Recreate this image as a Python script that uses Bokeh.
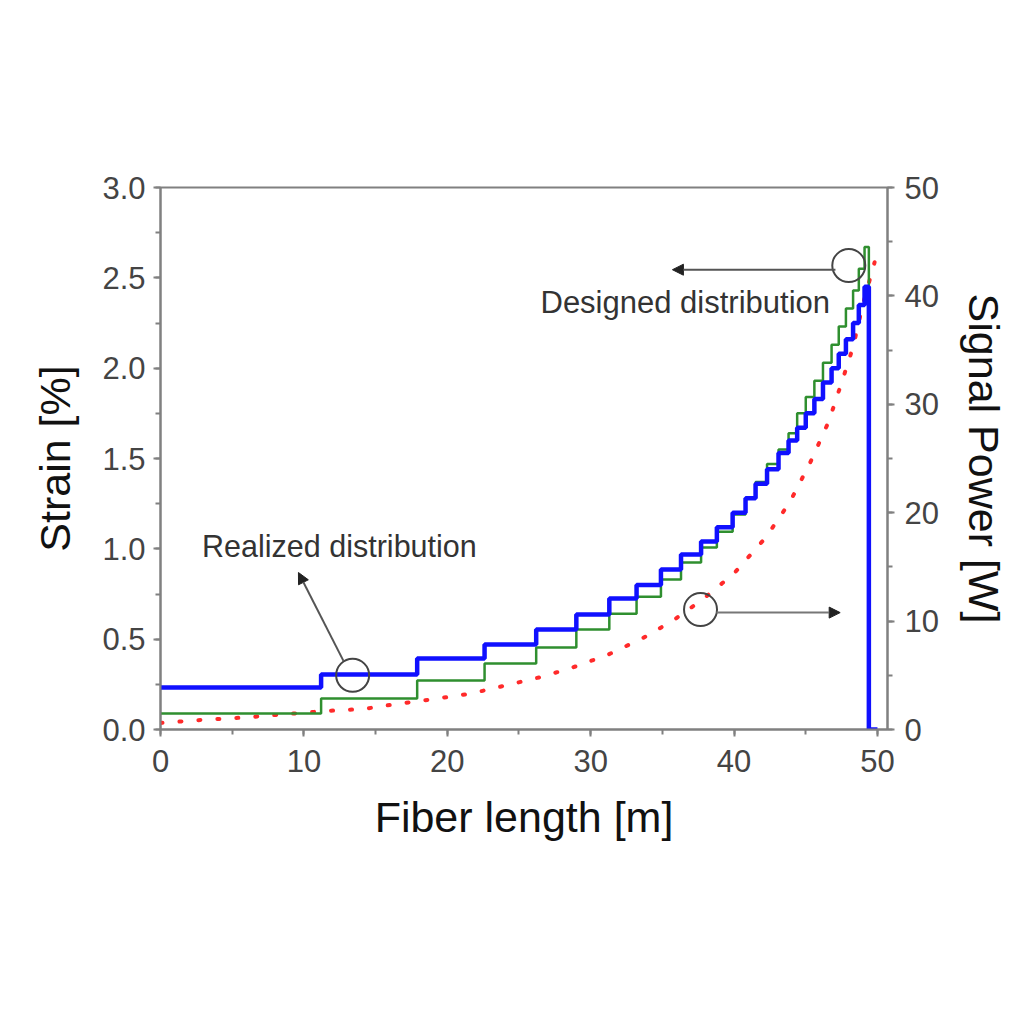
from bokeh.plotting import figure
from bokeh.models import Range1d, LinearAxis, Label, Arrow, NormalHead, SingleIntervalTicker, NumeralTickFormatter
from bokeh.embed import file_html
from bokeh.resources import INLINE

# ---- data ----
step_breaks = [0, 11.2, 17.9, 22.6, 26.2, 29.0, 31.3, 33.2, 34.9, 36.3, 37.7, 38.8,
               39.9, 40.8, 41.5, 42.3, 43.1, 43.8, 44.4, 45.0, 45.6, 46.2, 46.8,
               47.3, 47.8, 48.3, 48.7, 49.1, 49.4]
realized_strain = [0.232, 0.304, 0.393, 0.470, 0.553, 0.636, 0.725, 0.80, 0.886,
                   0.968, 1.04, 1.12, 1.20, 1.28, 1.36, 1.44, 1.53, 1.60, 1.67,
                   1.75, 1.83, 1.92, 2.00, 2.08, 2.16, 2.25, 2.35, 2.45]
designed_strain = [0.089, 0.171, 0.271, 0.365, 0.454, 0.553, 0.640, 0.735, 0.83,
                   0.924, 1.008, 1.095, 1.19, 1.28, 1.37, 1.47, 1.55, 1.64, 1.75,
                   1.84, 1.93, 2.03, 2.13, 2.23, 2.33, 2.43, 2.55, 2.67]
fiber_end = 50.0

power_x = [0, 1.5, 3.0, 5.8, 8.6, 11.4, 14.2, 16.2, 19.0, 21.6, 24.2, 26.7, 28.7,
           31.2, 33.6, 35.8, 37.9, 40.0, 42.2, 43.9, 45.3, 46.6, 47.6, 48.3, 49.0, 49.8]
power_w = [0.6, 0.75, 0.9, 1.1, 1.4, 1.7, 1.9, 2.3, 2.8, 3.3, 4.1, 4.9, 5.7,
           6.9, 8.4, 10.1, 12.1, 14.4, 17.7, 21.0, 24.6, 28.4, 32.4, 35.3, 39.3, 43.1]

FONT = "Liberation Sans"
AX = "#808080"
TXT = "#333333"

p = figure(width=1012, height=1000, output_backend="svg", toolbar_location=None,
           x_range=Range1d(0, 50.7), y_range=Range1d(0, 3.0),
           min_border_left=160, min_border_right=125, min_border_top=187,
           min_border_bottom=271)
p.grid.visible = False
p.outline_line_color = AX
p.outline_line_width = 2
p.background_fill_color = "white"
p.border_fill_color = "white"

p.extra_y_ranges = {"power": Range1d(0, 50)}

def style_axis(ax, label_size="43px"):
    ax.axis_line_color = AX
    ax.axis_line_width = 2
    ax.major_tick_line_color = AX
    ax.minor_tick_line_color = AX
    ax.major_tick_line_width = 2
    ax.minor_tick_line_width = 2
    ax.major_tick_out = 7
    ax.major_tick_in = 0
    ax.minor_tick_out = 5
    ax.minor_tick_in = 0
    ax.major_label_text_font = FONT
    ax.major_label_text_font_size = "31px"
    ax.major_label_text_color = "#444444"
    ax.axis_label_text_font = FONT
    ax.axis_label_text_font_size = label_size
    ax.axis_label_text_font_style = "normal"
    ax.axis_label_text_color = "#111111"

xa = p.xaxis[0]
style_axis(xa)
xa.ticker = SingleIntervalTicker(interval=10, num_minor_ticks=2)
xa.axis_label = "Fiber length [m]"
xa.major_label_standoff = 13
xa.axis_label_standoff = 18

ya = p.yaxis[0]
style_axis(ya)
ya.ticker = SingleIntervalTicker(interval=0.5, num_minor_ticks=2)
ya.formatter = NumeralTickFormatter(format="0.0")
ya.axis_label = "Strain [%]"
ya.major_label_standoff = 8
ya.axis_label_standoff = 20

ra = LinearAxis(y_range_name="power", axis_label="Signal Power [W]")
style_axis(ra)
ra.ticker = SingleIntervalTicker(interval=10, num_minor_ticks=2)
ra.major_label_standoff = 10
ra.axis_label_standoff = 18
p.add_layout(ra, "right")

# ---- data marks ----
p.line(power_x, power_w, y_range_name="power", line_color="#ff2a2a",
       line_width=4, line_dash="2 17", line_cap="round")

p.step(step_breaks, designed_strain + [0.0], mode="after",
       line_color="#2f8f2f", line_width=2.5)
p.step(step_breaks + [fiber_end], realized_strain + [0.0, 0.0], mode="after",
       line_color="#1010ff", line_width=4.5)

# ---- annotations ----
circ_x = [13.4, 48.0, 37.66]
circ_y = [0.30, 2.568, 0.664]
p.scatter(circ_x, circ_y, marker="circle", size=33, fill_color=None,
          line_color="#444444", line_width=2)

p.add_layout(Arrow(end=NormalHead(size=11, fill_color="#222222", line_color="#222222"),
                   x_start=12.76, y_start=0.38, x_end=9.62, y_end=0.869,
                   line_color="#555555", line_width=2))
p.add_layout(Arrow(end=NormalHead(size=11, fill_color="#222222", line_color="#222222"),
                   x_start=47.07, y_start=2.545, x_end=35.7, y_end=2.545,
                   line_color="#555555", line_width=2))
p.add_layout(Arrow(end=NormalHead(size=11, fill_color="#222222", line_color="#222222"),
                   x_start=38.77, y_start=0.647, x_end=47.4, y_end=0.647,
                   line_color="#777777", line_width=2))

p.add_layout(Label(x=2.9, y=1.018, text="Realized distribution", text_font=FONT,
                   text_font_size="30.5px", text_color=TXT, text_baseline="middle"))
p.add_layout(Label(x=26.5, y=2.363, text="Designed distribution", text_font=FONT,
                   text_font_size="31px", text_color=TXT, text_baseline="middle"))

open("out.html", "w").write(file_html(p, INLINE))
